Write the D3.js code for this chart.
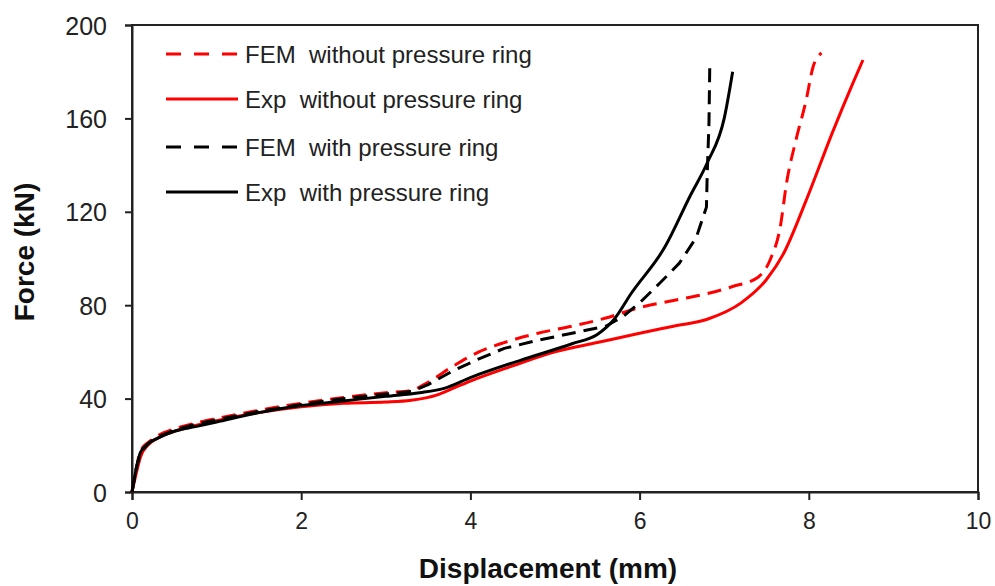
<!DOCTYPE html>
<html>
<head>
<meta charset="utf-8">
<script src="https://cdn.jsdelivr.net/npm/d3@7/dist/d3.min.js"></script>
<style>
  body { margin: 0; background: #fff; }
  text { font-family: "Liberation Sans", Arial, sans-serif; fill: #222; }
  .title { font-size: 28px; font-weight: bold; fill: #111; }
  .legend text { font-size: 24px; white-space: pre; }
</style>
</head>
<body>
<svg id="chart" width="995" height="586"></svg>
<script>
// displacement (mm) / force (kN) pairs
const femWithoutX = [0, 0.05, 0.1, 0.2, 0.3, 0.5, 0.75, 1, 1.5, 2, 2.5, 3, 3.3, 3.5, 3.8, 4.1, 4.4, 4.8, 5.2, 5.6, 6, 6.4, 6.8, 7.1, 7.4, 7.55, 7.66, 7.74, 7.85, 7.97, 8.05, 8.15];
const femWithoutY = [0, 10, 17.5, 21.5, 24, 27, 29.5, 31.5, 35, 38, 40.5, 42.5, 43.5, 47, 54, 60, 64, 68, 71, 74.5, 79, 82, 85, 88, 92, 100, 113, 133, 151, 168, 182, 188];

const expWithoutX = [0, 0.05, 0.1, 0.2, 0.3, 0.5, 0.75, 1, 1.5, 2, 2.5, 3, 3.3, 3.6, 3.8, 4, 4.5, 5, 5.5, 6, 6.4, 6.8, 7.2, 7.5, 7.7, 7.97, 8.28, 8.52, 8.64];
const expWithoutY = [0, 8, 15, 20.5, 23, 26, 28.5, 30.5, 34, 36.5, 38, 38.5, 39.3, 41.5, 44.5, 47.5, 54, 60, 64, 68, 71, 74, 81, 91, 102, 125, 154, 175, 185];

const femWithX = [0, 0.05, 0.1, 0.2, 0.3, 0.5, 0.75, 1, 1.5, 2, 2.5, 3, 3.3, 3.5, 3.8, 4.1, 4.4, 4.8, 5.2, 5.6, 5.8, 6, 6.24, 6.47, 6.67, 6.79, 6.8, 6.82, 6.83];
const femWithY = [0, 10, 17, 21, 23.5, 26.5, 29, 31, 34.5, 37.5, 40, 42, 43, 46, 52, 57, 61.5, 65, 68, 71, 75, 81, 89.5, 98, 109, 122, 137, 158, 184];

const expWithX = [0, 0.05, 0.1, 0.2, 0.3, 0.5, 0.75, 1, 1.5, 2, 2.5, 3, 3.4, 3.7, 4, 4.6, 5.2, 5.5, 5.7, 5.9, 6.3, 6.6, 6.8, 7, 7.1];
const expWithY = [0, 10, 17, 21, 23, 26, 28, 30, 34, 37, 39, 41, 42.5, 44.5, 49, 56.5, 63.5, 67.5, 74, 85, 105, 127, 141, 160, 180];

const seriesNames = ["FEM  without pressure ring", "Exp  without pressure ring", "FEM  with pressure ring", "Exp  with pressure ring"];
const seriesColors = ["#ff0000", "#ff0000", "#000000", "#000000"];
const seriesDashed = [true, false, true, false];

const xTicks = [0, 2, 4, 6, 8, 10];
const yTicks = [0, 40, 80, 120, 160, 200];

const svg = d3.select('#chart');
const plotLeft = 132, plotRight = 978, plotTop = 25, plotBottom = 492;

let x = d3.scaleLinear().domain([0, 10]).range([plotLeft, plotRight]);
let y = d3.scaleLinear().domain([0, 200]).range([plotBottom, plotTop]);

// frame around the plot
svg.append('rect')
    .attr('x', plotLeft).attr('y', plotTop)
    .attr('width', plotRight - plotLeft).attr('height', plotBottom - plotTop)
    .attr('fill', 'none').attr('stroke', '#222').attr('stroke-width', 2);

// axes with outward ticks
let xAxis = svg.append('g')
    .attr('transform', `translate(0,${plotBottom})`)
    .call(d3.axisBottom(x).tickValues(xTicks).tickSize(8).tickPadding(13).tickFormat(d3.format('d')));
let yAxis = svg.append('g')
    .attr('transform', `translate(${plotLeft},0)`)
    .call(d3.axisLeft(y).tickValues(yTicks).tickSize(7).tickPadding(18).tickFormat(d3.format('d')));
[xAxis, yAxis].forEach(function(a) {
    a.select('.domain').attr('stroke', '#222').attr('stroke-width', 2);
    a.selectAll('.tick line').attr('stroke', '#222').attr('stroke-width', 2);
    a.selectAll('.tick text').attr('fill', '#222');
});
xAxis.selectAll('.tick text').attr('font-size', 23);
yAxis.selectAll('.tick text').attr('font-size', 25).attr('dy', '0.36em');

// axis titles
svg.append('text')
    .attr('class', 'title')
    .attr('x', 548).attr('y', 578)
    .attr('text-anchor', 'middle')
    .text('Displacement (mm)');
svg.append('text')
    .attr('class', 'title')
    .attr('transform', 'translate(34,252) rotate(-90)')
    .attr('text-anchor', 'middle')
    .text('Force (kN)');

// curves
let xs = [femWithoutX, expWithoutX, femWithX, expWithX];
let ys = [femWithoutY, expWithoutY, femWithY, expWithY];
let smooth = d3.line()
    .x(function(d) { return x(d[0]); })
    .y(function(d) { return y(d[1]); })
    .curve(d3.curveMonotoneX);
let straight = d3.line()
    .x(function(d) { return x(d[0]); })
    .y(function(d) { return y(d[1]); });

let curves = svg.append('g').attr('id', 'curves');
seriesNames.forEach(function(name, i) {
    let pts = xs[i].map(function(v, j) { return [v, ys[i][j]]; });
    // the near-vertical FEM curve can't go through monotoneX cleanly
    let gen = i === 2 ? straight : smooth;
    curves.append('path')
        .datum(pts)
        .attr('d', gen)
        .attr('fill', 'none')
        .attr('stroke', seriesColors[i])
        .attr('stroke-width', 3)
        .attr('stroke-linejoin', 'round')
        .attr('stroke-dasharray', seriesDashed[i] ? '14,8' : null);
});

// legend
let legend = svg.append('g').attr('class', 'legend');
let legendY = [54, 99, 147, 192];
seriesNames.forEach(function(name, i) {
    legend.append('line')
        .attr('x1', 166).attr('x2', 238)
        .attr('y1', legendY[i]).attr('y2', legendY[i])
        .attr('stroke', seriesColors[i])
        .attr('stroke-width', 3)
        .attr('stroke-dasharray', seriesDashed[i] ? '15,13' : null);
    legend.append('text')
        .attr('x', 245).attr('y', legendY[i])
        .attr('dy', '0.36em')
        .attr('xml:space', 'preserve')
        .text(name);
});
</script>
</body>
</html>
